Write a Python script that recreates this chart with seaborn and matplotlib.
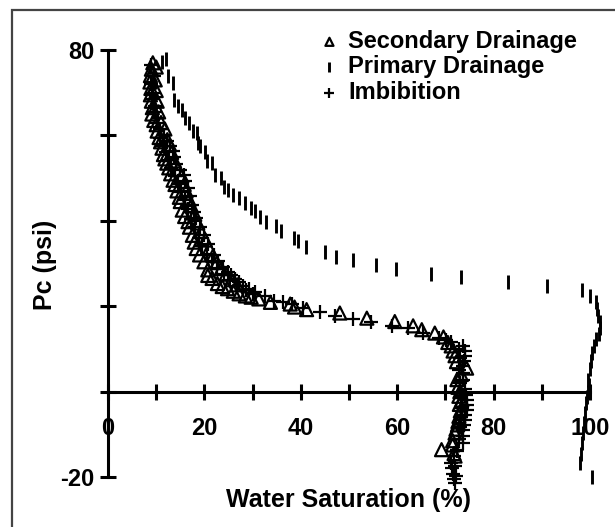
import matplotlib
matplotlib.use("Agg")
import matplotlib.pyplot as plt
from matplotlib.patches import Rectangle
import seaborn as sns
import pandas as pd

# ---- data (Sw %, Pc psi) ----
sec_sw = [9.3, 9.0, 8.8, 8.7, 8.9, 8.8, 9.0, 9.2, 9.1, 9.5, 10.0, 10.2, 10.6, 10.9, 11.2, 11.5,
          11.8, 12.2, 12.6, 13.0, 13.5, 13.9, 14.3, 14.8, 15.0, 15.4, 15.9, 16.6, 16.9, 17.5,
          17.9, 18.3, 19.0, 19.9, 20.7, 20.7, 21.6, 22.7, 23.7, 24.8, 26.0, 27.2, 28.5, 29.7,
          31.3, 33.7, 37.8, 38.7, 41.2, 48.1, 53.7, 59.5, 63.3, 65.1, 67.8, 69.6, 70.5, 71.2,
          71.6, 72.0, 72.3, 74.4, 72.4, 72.6, 72.8, 72.9, 72.8, 72.5, 72.0, 71.5, 69.2, 72.0,
          10.0, 9.8, 10.0, 10.2, 10.5, 11.0, 11.8, 12.3, 12.8, 13.2, 13.8, 14.5, 15.3, 15.8,
          16.2, 16.8, 17.3, 18.0, 18.6, 19.3, 20.2, 21.0, 21.8, 22.6, 23.5, 24.5, 25.6, 26.8,
          73.3, 73.0, 73.4, 73.1, 72.6, 72.2, 71.5, 71.8]
sec_pc = [77.0, 75.5, 74.0, 72.5, 71.0, 69.5, 68.0, 66.5, 65.0, 63.5, 62.5, 61.0, 59.5, 58.5, 57.0, 55.5,
          54.5, 53.5, 52.4, 51.0, 49.5, 48.5, 47.0, 45.5, 44.5, 42.5, 41.0, 39.8, 38.5, 36.6,
          35.0, 33.5, 32.0, 30.4, 28.5, 27.2, 26.5, 25.3, 24.6, 24.1, 23.5, 22.9, 22.4, 22.1,
          21.7, 20.9, 20.5, 19.8, 19.2, 18.4, 17.2, 16.4, 15.4, 14.5, 13.7, 12.8, 11.5, 10.7,
          9.5, 8.4, 7.0, 5.5, 2.8, 1.0, -1.1, -3.0, -5.8, -7.8, -9.7, -11.5, -13.6, -15.1,
          76.0, 73.0, 70.5, 68.0, 65.5, 63.0, 61.5, 59.0, 57.8, 56.0, 54.0, 52.0, 50.5, 48.5,
          47.0, 45.0, 43.5, 41.5, 39.5, 37.5, 35.5, 33.5, 31.8, 30.2, 28.8, 27.5, 26.2, 25.0,
          4.0, 0.0, -2.0, -4.5, -7.0, -8.8, -12.5, -14.5]

pri_sw = [11.1, 12.0, 12.5, 13.5, 13.7, 14.5, 15.3, 16.0, 16.9, 17.6, 18.4, 18.7, 19.1, 20.1,
          20.6, 21.5, 22.3, 23.4, 24.0, 24.8, 25.9, 27.2, 28.4, 29.6, 30.5, 31.5, 32.8, 34.9,
          35.8, 38.6, 39.5, 41.1, 45.1, 47.2, 50.8, 55.7, 59.8, 67.1, 73.2, 82.9, 91.1, 98.4,
          100.0, 101.2, 101.5, 101.7, 102.0, 102.1, 101.8, 101.2, 100.8, 100.4, 100.2, 100.0,
          99.6, 99.8, 99.6, 99.4, 99.2, 99.0, 98.8, 98.6, 98.4, 98.2, 98.0, 100.4]
pri_pc = [77.3, 78.0, 73.8, 72.2, 68.3, 67.0, 66.0, 64.0, 62.8, 61.0, 60.5, 58.2, 57.5, 56.2,
          54.0, 53.5, 50.8, 50.0, 48.0, 47.3, 46.1, 45.3, 44.1, 42.9, 42.2, 41.0, 39.8, 38.7,
          37.5, 35.9, 35.2, 33.9, 32.7, 31.6, 30.8, 29.6, 28.8, 27.6, 26.8, 25.6, 24.8, 23.7,
          22.5, 20.9, 19.4, 17.8, 16.4, 15.0, 13.6, 12.3, 10.7, 9.1, 7.2, 5.2,
          2.8, 1.5, 0.0, -1.3, -2.6, -5.0, -7.4, -9.7, -12.1, -14.5, -16.8, -19.9]

imb_sw = [9.5, 9.3, 9.8, 10.3, 10.8, 11.6, 12.2, 12.8, 13.4, 13.6, 14.2, 15.0, 15.8, 16.0, 16.6,
          17.0, 17.5, 17.8, 18.3, 19.0, 19.9, 20.8, 21.9, 22.8, 23.8, 24.8, 25.6, 26.4, 27.2,
          28.0, 29.2, 30.5, 32.5, 34.5, 36.3, 38.2, 40.5, 43.9, 47.1, 50.8, 54.5, 58.9, 62.2,
          65.4, 68.7, 70.2, 71.2, 73.6, 74.0, 74.0, 73.8, 73.6, 73.7, 73.6, 74.0, 74.2, 74.4,
          74.5, 74.4, 74.1, 74.0, 73.8, 73.6, 73.6, 73.6, 72.4, 71.8, 71.2, 71.4, 71.6, 71.8, 72.0,
          9.0, 8.9, 9.2, 9.6, 10.1, 10.8, 11.5, 12.0, 12.6, 13.1, 13.8, 14.6, 15.2, 15.9,
          16.5, 17.2, 18.0, 18.8, 19.6, 20.5, 21.5, 22.7, 24.0, 25.3, 26.8, 28.6, 30.0,
          72.8, 73.0, 72.8, 73.0, 73.2, 73.5, 73.3, 73.0, 72.8, 72.5, 72.0, 72.2]
imb_pc = [74.0, 70.0, 67.0, 64.0, 61.5, 60.0, 58.7, 57.5, 56.3, 55.0, 53.2, 52.0, 50.8, 49.3, 47.7,
          45.8, 43.7, 42.0, 40.6, 38.5, 36.7, 34.5, 31.9, 30.5, 29.2, 28.0, 27.2, 26.4, 25.6,
          24.8, 24.0, 23.3, 22.3, 21.3, 20.9, 20.5, 19.6, 18.6, 17.8, 17.0, 16.2, 15.4, 15.0,
          13.8, 12.6, 12.0, 11.5, 10.7, 9.5, 8.3, 7.1, 6.0, 4.4, 2.8, 0.5, -0.7, -1.9,
          -3.1, -4.3, -5.5, -6.6, -7.8, -9.0, -10.5, -12.1, -13.6, -15.0, -16.8, -18.0, -19.2, -20.4, -21.5,
          76.5, 72.0, 68.5, 65.5, 62.8, 59.3, 57.5, 56.2, 54.2, 52.3, 50.4, 48.6, 46.8, 44.8,
          42.8, 40.5, 38.6, 36.0, 34.0, 32.3, 30.6, 29.0, 27.6, 26.1, 24.8, 23.8, 22.8,
          10.0, 7.8, 5.0, 2.0, -1.0, -3.8, -6.0, -8.4, -11.0, -14.0, -17.5, -19.8]

x_ticks = [0, 10, 20, 30, 40, 50, 60, 70, 80, 90, 100]
x_ticklabels = ["0", "", "20", "", "40", "", "60", "", "80", "", "100"]
y_ticks = [-20, 0, 20, 40, 60, 80]
y_ticklabels = ["-20", "", "", "", "", "80"]

sec = pd.DataFrame({"Sw": sec_sw, "Pc": sec_pc})
pri = pd.DataFrame({"Sw": pri_sw, "Pc": pri_pc})
imb = pd.DataFrame({"Sw": imb_sw, "Pc": imb_pc})

sns.set_style("white")
plt.rcParams["font.family"] = ["Liberation Sans", "DejaVu Sans"]
plt.rcParams["font.weight"] = "bold"
plt.rcParams["text.color"] = "black"
plt.rcParams["axes.labelcolor"] = "black"
plt.rcParams["xtick.color"] = "black"
plt.rcParams["ytick.color"] = "black"

W, H = 615, 527
fig = plt.figure(figsize=(W / 100, H / 100), dpi=100)
ax = fig.add_axes([108 / W, 50 / H, 482 / W, 427 / H])

sns.scatterplot(data=sec, x="Sw", y="Pc", ax=ax, marker="^", s=88, facecolor="none",
                edgecolor="black", linewidth=1.6, label="Secondary Drainage", clip_on=False, zorder=3)
sns.scatterplot(data=pri, x="Sw", y="Pc", ax=ax, marker="|", s=110, color="black",
                linewidth=2.1, label="Primary Drainage", clip_on=False, zorder=3)
sns.scatterplot(data=imb, x="Sw", y="Pc", ax=ax, marker="+", s=115, color="black",
                linewidth=1.6, label="Imbibition", clip_on=False, zorder=3)

ax.set_xlim(0, 100)
ax.set_ylim(-20, 80)
for side in ["top", "right"]:
    ax.spines[side].set_visible(False)
ax.spines["bottom"].set_position(("data", 0))
for side in ["left", "bottom"]:
    ax.spines[side].set_linewidth(2.2)
    ax.spines[side].set_color("black")
ax.set_xticks(x_ticks)
ax.set_xticklabels(x_ticklabels)
ax.set_yticks(y_ticks)
ax.set_yticklabels(y_ticklabels)
ax.tick_params(axis="both", direction="inout", length=12, width=2.2, color="black",
               labelsize=17, labelcolor="black", bottom=True, left=True)
ax.tick_params(axis="x", pad=12)
ax.tick_params(axis="y", pad=4)
for t in ax.get_xticklabels() + ax.get_yticklabels():
    t.set_fontweight("bold")

ax.set_xlabel("")
ax.set_ylabel("")
fig.text(349 / W, 1 - 500 / H, "Water Saturation (%)", ha="center", va="center",
         fontsize=18, fontweight="bold", color="black")
fig.text(45 / W, 1 - 265 / H, "Pc (psi)", ha="center", va="center", rotation=90,
         fontsize=18, fontweight="bold", color="black")

leg = ax.legend(loc="upper left", bbox_to_anchor=(320 / W, 1 - 30 / H),
                bbox_transform=fig.transFigure, frameon=False, fontsize=17,
                handlelength=0.8, handletextpad=0.4, labelspacing=0.1, borderpad=0,
                borderaxespad=0, markerscale=0.62)
for t in leg.get_texts():
    t.set_fontweight("bold")
    t.set_color("black")

fig.patches.append(Rectangle((12 / W, -0.1), 1.2, 1 - 10 / H + 0.1, transform=fig.transFigure,
                             fill=False, edgecolor="#444444", linewidth=1.6))

fig.savefig("out.png", dpi=100)
